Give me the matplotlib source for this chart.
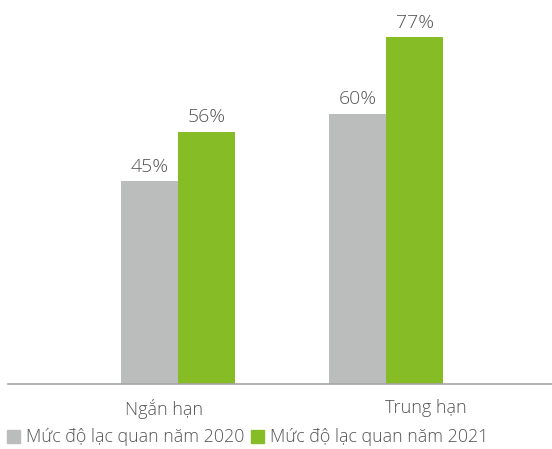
import numpy as np
import matplotlib.pyplot as plt
from matplotlib.patches import Patch

plt.rcParams['font.family'] = ['Open Sans', 'DejaVu Sans']
plt.rcParams['font.weight'] = 'light'

categories = ['Ngắn hạn', 'Trung hạn']
series_names = ['Mức độ lạc quan năm 2020', 'Mức độ lạc quan năm 2021']
values_2020 = [45, 60]
values_2021 = [56, 77]

gray = '#BBBCBC'
green = '#86BC25'
text_color = '#555555'

fig = plt.figure(figsize=(5.52, 4.49), dpi=100)
ax = fig.add_axes([8 / 552, 65 / 449, 544 / 552, 384 / 449])

x = np.arange(len(categories))
w = 0.275
b1 = ax.bar(x - w / 2, values_2020, w, color=gray)
b2 = ax.bar(x + w / 2, values_2021, w, color=green)

for bars, vals in [(b1, values_2020), (b2, values_2021)]:
    for rect, v in zip(bars, vals):
        ax.text(rect.get_x() + rect.get_width() / 2, v + 1.2, f'{v}%',
                ha='center', va='bottom', fontsize=14, color=text_color)

ax.set_xlim(-0.817, 1.798)
ax.set_ylim(0, 85.3)

# category labels sit a bit off the group centres
label_x = [-0.065, 1.19]
for lx, name in zip(label_x, categories):
    ax.text(lx, -3.3, name, ha='center', va='top', fontsize=13, color=text_color)

ax.set_xticks([])
ax.set_yticks([])
for s in ['top', 'right', 'left']:
    ax.spines[s].set_visible(False)
ax.spines['bottom'].set_color('#A6A6A6')
ax.spines['bottom'].set_linewidth(1.2)

handles = [Patch(color=gray), Patch(color=green)]
leg = fig.legend(handles, series_names, loc='lower left', bbox_to_anchor=(-0.01, -0.022),
                 ncol=2, frameon=False, fontsize=12.8, labelcolor=text_color,
                 handlelength=0.75, handleheight=0.75, handletextpad=0.3,
                 columnspacing=0.4, borderaxespad=0.3)

fig.savefig('out.png', dpi=100)
